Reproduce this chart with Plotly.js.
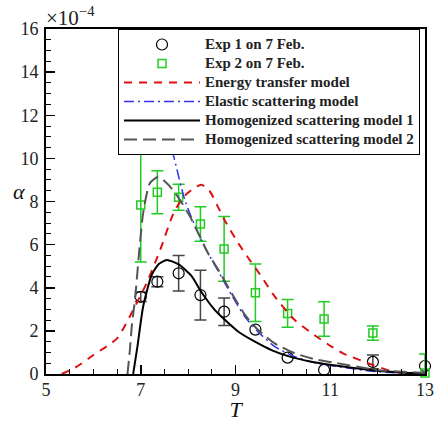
<!DOCTYPE html>
<html>
<head>
<meta charset="utf-8">
<script src="https://cdn.plot.ly/plotly-3.0.1.min.js"></script>
<style>html,body{margin:0;padding:0;background:#fff;}#chart{width:440px;height:422px;}</style>
</head>
<body>
<div id="chart"></div>
<script>
// Experimental data (alpha in units of 1e-4)
const T_exp = [7.0, 7.35, 7.8, 8.26, 8.76, 9.42, 10.1, 10.87, 11.9, 13.0];
const alpha_exp1 = [3.58, 4.28, 4.67, 3.66, 2.89, 2.06, 0.76, 0.19, 0.56, 0.37];
const err_exp1 = [0.22, 0.23, 0.82, 1.15, 0.64, 0, 0, 0, 0.32, 0];
const alpha_exp2 = [7.84, 8.43, 8.2, 6.96, 5.8, 3.77, 2.81, 2.55, 1.9, 0.05];
const err_exp2 = [2.64, 1.0, 0.6, 0.8, 1.5, 1.33, 0.64, 0.8, 0.33, 0.88];

// Energy transfer model
const T_energy = [5.33, 5.65, 6.0, 6.5, 6.84, 7.12, 7.41, 7.69, 7.9, 8.11, 8.28, 8.45, 8.63, 8.78, 9.02, 9.2, 9.55, 9.83, 10.25, 10.67, 11.03, 11.27, 11.9, 12.33, 13.0];
const alpha_energy = [0, 0.34, 0.88, 1.65, 2.97, 4.2, 5.75, 7.45, 8.2, 8.6, 8.78, 8.5, 7.75, 7.1, 6.2, 5.6, 4.51, 3.59, 2.5, 1.8, 1.27, 0.96, 0.42, 0.11, 0.0];

// Elastic scattering model
const T_elastic = [7.3, 7.5, 7.69, 7.93, 8.18, 8.42, 8.64, 8.92, 9.2, 9.48, 9.83, 10.25, 10.74, 11.98, 13.0];
const alpha_elastic = [14.0, 11.9, 10.15, 8.07, 6.68, 5.6, 4.75, 3.65, 2.65, 1.95, 1.27, 0.8, 0.49, 0.11, 0.02];

// Homogenized scattering model 1
const T_hom1 = [6.84, 6.93, 7.05, 7.23, 7.38, 7.55, 7.8, 8.07, 8.28, 8.57, 8.78, 9.06, 9.41, 9.76, 10.11, 10.6, 11.03, 11.5, 12.0, 12.5, 13.0];
const alpha_hom1 = [0, 1.27, 3.12, 4.59, 5.1, 5.29, 5.08, 4.55, 3.8, 2.95, 2.5, 1.96, 1.5, 1.11, 0.83, 0.57, 0.42, 0.28, 0.15, 0.07, 0.02];

// Homogenized scattering model 2
const T_hom2 = [6.72, 6.77, 6.81, 6.88, 6.98, 7.05, 7.19, 7.37, 7.5, 7.65, 7.83, 8.04, 8.25, 8.42, 8.64, 8.92, 9.2, 9.48, 9.83, 10.25, 10.74, 11.03, 11.98, 12.75, 13.0];
const alpha_hom2 = [0, 1.1, 2.2, 3.5, 6.0, 7.45, 8.84, 9.15, 8.95, 8.61, 8.07, 7.3, 6.37, 5.6, 4.82, 3.74, 2.74, 2.04, 1.42, 0.96, 0.65, 0.55, 0.19, 0.08, 0.05];

const serif = '"Liberation Serif", "Times New Roman", serif';
const legendName = s => '<span style="font-size:15px">' + s + '</span>';

// split exp1 into points with and without visible error bars
const withErr = T_exp.map((t, i) => i).filter(i => err_exp1[i] > 0);
const noErr = T_exp.map((t, i) => i).filter(i => !(err_exp1[i] > 0));

const traces = [
  {
    x: withErr.map(i => T_exp[i]), y: withErr.map(i => alpha_exp1[i]),
    name: legendName('Exp 1 on 7 Feb.'), legendgroup: 'e1', type: 'scatter', mode: 'markers', cliponaxis: false,
    marker: {symbol: 'circle-open', size: 11, color: '#000', line: {width: 1.2, color: '#000'}},
    error_y: {type: 'data', array: withErr.map(i => err_exp1[i]), visible: true, color: '#444', thickness: 1.5, width: 6}
  },
  {
    x: noErr.map(i => T_exp[i]), y: noErr.map(i => alpha_exp1[i]),
    name: legendName('Exp 1 on 7 Feb.'), legendgroup: 'e1', showlegend: false, type: 'scatter', mode: 'markers', cliponaxis: false,
    marker: {symbol: 'circle-open', size: 11, color: '#000', line: {width: 1.2, color: '#000'}}
  },
  {
    x: T_exp, y: alpha_exp2, name: legendName('Exp 2 on 7 Feb.'), type: 'scatter', mode: 'markers', cliponaxis: false,
    marker: {symbol: 'square-open', size: 8, color: '#22cc22', line: {width: 1.5, color: '#22cc22'}},
    error_y: {type: 'data', array: err_exp2, visible: true, color: '#22cc22', thickness: 1.5, width: 6}
  },
  {
    x: T_energy, y: alpha_energy, name: legendName('Energy transfer model'), type: 'scatter', mode: 'lines',
    line: {color: '#dd1111', width: 2, dash: '8px,7px', shape: 'spline', smoothing: 0.6}
  },
  {
    x: T_elastic, y: alpha_elastic, name: legendName('Elastic scattering model'), type: 'scatter', mode: 'lines',
    line: {color: '#3333ee', width: 1.5, dash: '10px,4px,2px,4px', shape: 'spline', smoothing: 0.6}
  },
  {
    x: T_hom1, y: alpha_hom1, name: legendName('Homogenized scattering model 1'), type: 'scatter', mode: 'lines',
    line: {color: '#000', width: 2, shape: 'spline', smoothing: 0.6}
  },
  {
    x: T_hom2, y: alpha_hom2, name: legendName('Homogenized scattering model 2'), type: 'scatter', mode: 'lines',
    line: {color: '#555', width: 2, dash: '13px,6px', shape: 'spline', smoothing: 0.6}
  }
];

const layout = {
  width: 440, height: 422,
  margin: {l: 46, r: 15, t: 29, b: 48},
  paper_bgcolor: '#fff', plot_bgcolor: '#fff',
  font: {family: serif, size: 18, color: '#222'},
  showlegend: true,
  legend: {
    x: 0.19, y: 1, xanchor: 'left', yanchor: 'top',
    bgcolor: '#fff', bordercolor: '#000', borderwidth: 1,
    font: {family: serif, size: 12, color: '#222', weight: 'bold'},
    itemwidth: 76, tracegroupgap: 0
  },
  xaxis: {
    range: [5, 13], tick0: 5, dtick: 2, showgrid: false, zeroline: false,
    showline: true, linecolor: '#000', linewidth: 2, mirror: true,
    ticks: 'inside', ticklen: 9, tickwidth: 1.5, tickcolor: '#000',
    minor: {dtick: 0.5, ticks: 'inside', ticklen: 5, tickwidth: 1, tickcolor: '#000', showgrid: false},
    tickfont: {family: serif, size: 18, color: '#222'},
    ticklabelstandoff: -2,
    title: {text: '<i>T</i>', font: {family: serif, size: 22, color: '#111'}, standoff: 0}
  },
  yaxis: {
    range: [0, 16], tick0: 0, dtick: 2, showgrid: false, zeroline: false,
    showline: true, linecolor: '#000', linewidth: 2, mirror: true,
    ticks: 'inside', ticklen: 9, tickwidth: 1.5, tickcolor: '#000',
    minor: {dtick: 0.5, ticks: 'inside', ticklen: 5, tickwidth: 1, tickcolor: '#000', showgrid: false},
    tickfont: {family: serif, size: 18, color: '#222'},
    ticklabelstandoff: 2
  },
  annotations: [
    {text: '<i>α</i>', xref: 'paper', yref: 'paper', x: -0.071, y: 0.528, xanchor: 'center', yanchor: 'middle',
     showarrow: false, font: {family: serif, size: 22, color: '#111'}},
    {text: '×10<sup>−4</sup>', xref: 'paper', yref: 'paper', x: -0.006, y: 1.082, xanchor: 'left', yanchor: 'top',
     showarrow: false, font: {family: serif, size: 21, color: '#222'}}
  ]
};

Plotly.newPlot('chart', traces, layout, {displayModeBar: false, staticPlot: true});
</script>
</body>
</html>
